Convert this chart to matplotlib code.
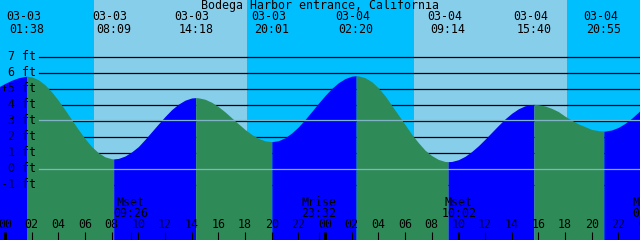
import numpy as np
import matplotlib.pyplot as plt

plt.rcParams["font.family"] = "DejaVu Sans Mono"
plt.rcParams["font.size"] = 8.4

title = "Bodega Harbor entrance, California"

# water level every half hour (ft), hours counted from 03-03 00:00
hours = np.arange(-1, 48.5, 0.5)
levels = [4.85, 5.12, 5.35, 5.55, 5.70, 5.79, 5.76, 5.58, 5.26, 4.82,
          4.29, 3.70, 3.08, 2.47, 1.90, 1.40, 1.02, 0.76, 0.64, 0.66,
          0.81, 1.07, 1.40, 1.85, 2.33, 2.81, 3.28, 3.71, 4.05, 4.30,
          4.44, 4.45, 4.36, 4.17, 3.90, 3.57, 3.20, 2.83, 2.47, 2.16,
          1.92, 1.76, 1.71, 1.77, 1.95, 2.25, 2.63, 3.09, 3.59, 4.10,
          4.59, 5.03, 5.39, 5.65, 5.80, 5.82, 5.71, 5.46, 5.07, 4.58,
          3.98, 3.38, 2.78, 2.17, 1.65, 1.18, 0.84, 0.60, 0.47, 0.47,
          0.58, 0.79, 1.09, 1.45, 1.86, 2.29, 2.72, 3.13, 3.48, 3.76,
          3.95, 4.03, 4.02, 3.94, 3.79, 3.59, 3.30, 3.05, 2.82, 2.65,
          2.47, 2.40, 2.37, 2.44, 2.60, 2.85, 3.17, 3.55, 3.96]

# high / low tides
tide_dates = ["03-03", "03-03", "03-03", "03-03", "03-04", "03-04", "03-04", "03-04"]
tide_times = ["01:38", "08:09", "14:18", "20:01", "02:20", "09:14", "15:40", "20:55"]
tide_heights = [5.80, 0.63, 4.46, 1.71, 5.83, 0.46, 4.04, 2.37]

# sunrise / sunset -> day and night shading
sun_dates = ["03-03", "03-03", "03-04", "03-04"]
sun_times = ["06:41", "18:09", "06:42", "18:09"]

# moon events
moon_names = ["Mset", "Mrise", "Mset", "Mrise"]
moon_dates = ["03-03", "03-03", "03-04", "03-05"]
moon_times = ["09:26", "23:32", "10:02", "00:22"]

depth_levels = [7, 6, 5, 4, 3, 2, 1, 0, -1]
depth_labels = ["7 ft", "6 ft", "+5 ft", "4 ft", "3 ft", "2 ft", "1 ft", "0 ft", "-1 ft"]
mark_levels = [3.06, 0.0]   # mean sea level and datum


def to_hours(date, hm):
    day = int(date[-2:]) - 3
    hh, mm = hm.split(":")
    return day * 24 + int(hh) + int(mm) / 60


tide_t = [to_hours(d, t) for d, t in zip(tide_dates, tide_times)]
sun_t = [to_hours(d, t) for d, t in zip(sun_dates, sun_times)]
moon_t = [to_hours(d, t) for d, t in zip(moon_dates, moon_times)]

night = "#00bfff"
day = "#87ceeb"
rise_col = "#0000ff"
fall_col = "#2e8b57"
mark_col = "#7fb3c6"

x0, x1 = -0.375, 47.625
y0, y1 = -4.4375, 10.5625

fig = plt.figure(figsize=(6.4, 2.4), dpi=100)
ax = fig.add_axes([0, 0, 1, 1])
ax.axis("off")
ax.set_xlim(x0, x1)
ax.set_ylim(y0, y1)

# day / night background
edges = [x0 - 1] + sun_t + [x1 + 1]
for i in range(len(edges) - 1):
    ax.axvspan(edges[i], edges[i + 1], color=night if i % 2 == 0 else day, zorder=0, lw=0)

# depth lines behind the water
for lv in depth_levels:
    ax.axhline(lv, xmin=39 / 640, xmax=1, color="black", lw=0.9, zorder=1)

# water, coloured by rising / falling
t_all = np.concatenate([hours, tide_t])
h_all = np.concatenate([levels, tide_heights])
order = np.argsort(t_all)
t_all, h_all = t_all[order], h_all[order]

breaks = [hours[0]] + tide_t + [hours[-1]]
for a, b in zip(breaks[:-1], breaks[1:]):
    m = (t_all >= a) & (t_all <= b)
    ts, hs = t_all[m], h_all[m]
    col = rise_col if hs[-1] > hs[0] else fall_col
    ax.fill_between(ts, hs, y0 - 1, color=col, lw=0, zorder=2)

for lv in mark_levels:
    ax.axhline(lv, xmin=39 / 640, xmax=1, color=mark_col, lw=0.9, zorder=3)

# depth labels
for lv, lab in zip(depth_levels, depth_labels):
    ax.annotate(lab, (x0, lv), xytext=(26, 0), textcoords="offset points",
                ha="right", va="center", zorder=5)

# title and tide labels
ax.text(0.5, 1 - 6 / 240, title, transform=ax.transAxes, ha="center", va="center", zorder=5)
for t, d, hm in zip(tide_t, tide_dates, tide_times):
    ax.annotate(d, (t, (169 - 17) / 16), xytext=(-2.5, 0), textcoords="offset points",
                ha="center", va="center", zorder=5)
    ax.text(t, (169 - 29.5) / 16, hm, ha="center", va="center", zorder=5)

# hour labels and ticks
for h in range(0, 49, 2):
    ax.text(h, (169 - 225) / 16, f"{h % 24:02d}", ha="center", va="center", zorder=5)
    lw = 2.2 if h % 24 == 0 else 0.8
    ax.vlines(h, y0, (169 - 231.5) / 16, color="black", lw=lw, zorder=4)

# moon events
for t, name, hm in zip(moon_t, moon_names, moon_times):
    ax.text(t, (169 - 202) / 16, name, ha="center", va="center", zorder=5)
    ax.text(t, (169 - 213.5) / 16, hm, ha="center", va="center", zorder=5)
    ax.vlines(t, y0, (169 - 231.5) / 16, color="black", lw=0.8, zorder=4)

fig.savefig("out.png", dpi=100)
